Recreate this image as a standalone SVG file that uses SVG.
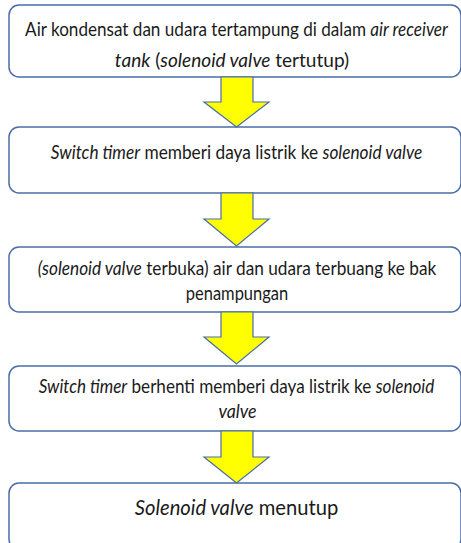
<svg xmlns="http://www.w3.org/2000/svg" width="461" height="543" viewBox="0 0 461 543">
  <style>
    .box { fill: #ffffff; stroke: #4a6da7; stroke-width: 1.5; }
    .arrow { fill: #ffff00; stroke: #4a6da7; stroke-width: 1.2; stroke-linejoin: miter; }
    .t { font-family: Lato, "Open Sans", "Liberation Sans", sans-serif; font-size: 18.5px; fill: #1a1a1a; text-anchor: middle; }
    .big { font-size: 22px; }
    .i { font-style: italic; }
  </style>
  <rect width="461" height="543" fill="#ffffff"/>

  <g id="step1">
    <rect class="box" x="9" y="5" width="452" height="72" rx="10"/>
    <text class="t" transform="translate(236.5 36) scale(0.925 1)">Air kondensat dan udara tertampung di dalam <tspan class="i">air receiver</tspan></text>
    <text class="t" transform="translate(232 67) scale(1.03 1)"><tspan class="i">tank</tspan> (<tspan class="i">solenoid valve</tspan> tertutup)</text>
  </g>

  <g id="step2">
    <rect class="box" x="9" y="127" width="452" height="66" rx="10"/>
    <text class="t" transform="translate(236.5 159) scale(0.933 1)"><tspan class="i">Switch timer</tspan> memberi daya listrik ke <tspan class="i">solenoid valve</tspan></text>
  </g>

  <g id="step3">
    <rect class="box" x="9" y="247" width="452" height="65" rx="10"/>
    <text class="t" transform="translate(237 275) scale(0.932 1)"><tspan class="i">(solenoid valve</tspan> terbuka) air dan udara terbuang ke bak</text>
    <text class="t" transform="translate(237 300) scale(0.89 1)">penampungan</text>
  </g>

  <g id="step4">
    <rect class="box" x="9" y="366" width="452" height="65" rx="10"/>
    <text class="t" transform="translate(236.5 393) scale(0.925 1)"><tspan class="i">Switch timer</tspan> berhenti memberi daya listrik ke <tspan class="i">solenoid</tspan></text>
    <text class="t i" transform="translate(237.5 418) scale(0.96 1)">valve</text>
  </g>

  <g id="step5">
    <rect class="box" x="9" y="483" width="452" height="66" rx="10"/>
    <text class="t big" transform="translate(236.5 515) scale(0.917 1)"><tspan class="i">Solenoid valve</tspan> menutup</text>
  </g>

  <g id="connectors">
    <polygon class="arrow" points="221,77 253,77 253,102 269,102 236.5,127 204,102 221,102"/>
    <polygon class="arrow" points="221,193 253,193 253,219 269,219 236.5,246 204,219 221,219"/>
    <polygon class="arrow" points="221,312 253,312 253,337 269,337 236.5,364 204,337 221,337"/>
    <polygon class="arrow" points="221,431 253,431 253,457 269,457 236.5,483 204,457 221,457"/>
  </g>
</svg>
